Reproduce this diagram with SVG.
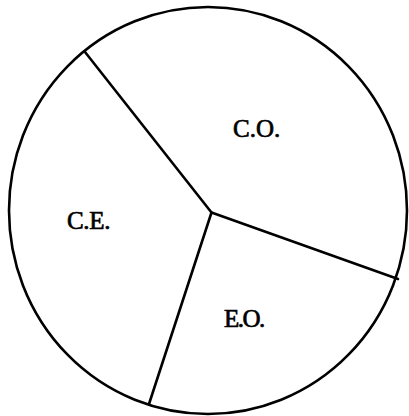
<svg xmlns="http://www.w3.org/2000/svg" width="409" height="416" viewBox="0 0 409 416">
<style>
.ln{fill:none;stroke:#000;stroke-width:2.6;stroke-linecap:round;stroke-linejoin:round}
.lb{font-family:"Liberation Serif","Times New Roman",serif;font-size:25px;fill:#000;stroke:#000;stroke-width:0.7}
</style>
<rect width="409" height="416" fill="#fff"/>
<g id="pie">
<ellipse class="ln" cx="208" cy="210.5" rx="199" ry="203.5"/>
</g>
<g id="connectors">
<polyline class="ln" points="85,52 211.5,212.5 398,279"/>
<line class="ln" x1="211.5" y1="212.5" x2="149" y2="404"/>
</g>
<g id="node-co"><text class="lb" x="233" y="137">C.O.</text></g>
<g id="node-ce"><text class="lb" x="67" y="229" letter-spacing="-0.3">C.E.</text></g>
<g id="node-eo"><text class="lb" x="224" y="327" letter-spacing="-1.5">E.O.</text></g>
</svg>
